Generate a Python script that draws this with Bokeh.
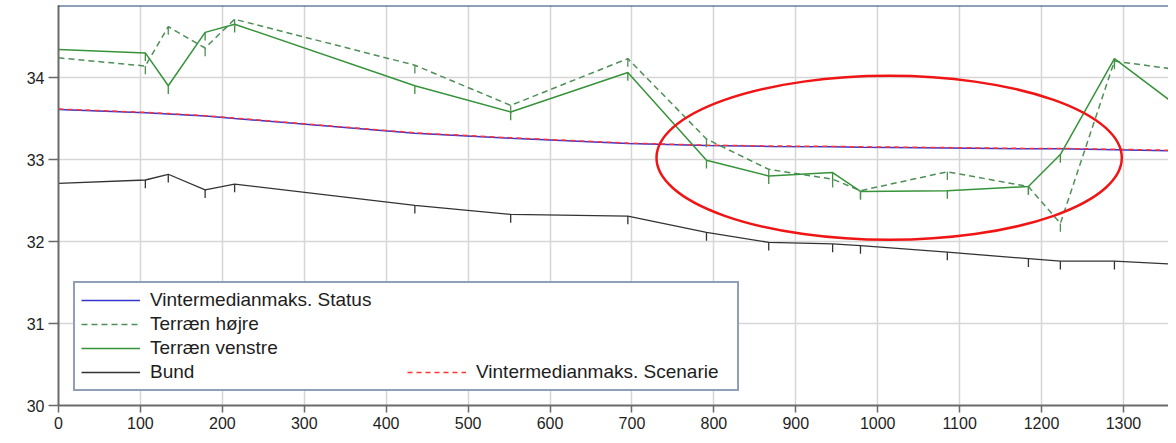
from bokeh.plotting import figure
from bokeh.models import Range1d, FixedTicker, Legend, LegendItem, ColumnDataSource
from bokeh.embed import file_html
from bokeh.resources import INLINE

# ---- data ----
stations = [0, 106, 134, 179, 215, 435, 552, 695, 791, 867, 945, 979, 1085, 1184, 1223, 1289, 1370]
terraen_venstre = [34.34, 34.30, 33.90, 34.55, 34.65, 33.90, 33.58, 34.06, 32.99, 32.80, 32.84, 32.61, 32.62, 32.67, 33.06, 34.23, 33.62]
terraen_hoejre = [34.24, 34.14, 34.62, 34.36, 34.71, 34.15, 33.66, 34.23, 33.25, 32.88, 32.76, 32.62, 32.85, 32.67, 32.22, 34.20, 34.09]
bund = [32.71, 32.75, 32.82, 32.63, 32.70, 32.44, 32.33, 32.31, 32.11, 31.99, 31.97, 31.95, 31.87, 31.79, 31.76, 31.76, 31.72]
status = [33.61, 33.57, 33.555, 33.53, 33.50, 33.32, 33.26, 33.195, 33.17, 33.16, 33.155, 33.15, 33.14, 33.13, 33.13, 33.12, 33.105]
scenarie = [33.615, 33.575, 33.56, 33.535, 33.505, 33.325, 33.265, 33.20, 33.175, 33.165, 33.16, 33.155, 33.145, 33.135, 33.135, 33.125, 33.11]
x_ticks = [0, 100, 200, 300, 400, 500, 600, 700, 800, 900, 1000, 1100, 1200, 1300, 1400]
y_ticks = [30, 31, 32, 33, 34]
highlight = dict(x=1014, y=33.02, w=568, h=2.0)

labels = ["Vintermedianmaks. Status", "Terræn højre", "Terræn venstre", "Bund", "Vintermedianmaks. Scenarie"]

FONT = "Liberation Sans"
GREEN_SOLID = "#36933a"
GREEN_DASH = "#4f8f57"
BLUE = "#3535cf"
RED = "#ff3333"
BLACK = "#333333"
FRAME_BLUE = "#1f3f78"

W, H = 1168, 435
BL, BT, BB = 58, 5, 30
p = figure(width=W, height=H, output_backend="svg", toolbar_location=None,
           x_range=Range1d(0, 1355), y_range=Range1d(30, 30 + 400 / 82),
           min_border_left=BL, min_border_right=0, min_border_top=BT, min_border_bottom=BB,
           background_fill_color="white", border_fill_color="white")
p.outline_line_color = None

# grid
p.xgrid.ticker = FixedTicker(ticks=x_ticks)
p.ygrid.ticker = FixedTicker(ticks=y_ticks)
p.grid.grid_line_color = "#d6d6d6"
p.grid.grid_line_width = 1.5

# axes
p.xaxis.ticker = FixedTicker(ticks=x_ticks)
p.yaxis.ticker = FixedTicker(ticks=y_ticks)
for ax in (p.xaxis, p.yaxis):
    ax.axis_line_color = "#6a6a6a"
    ax.axis_line_width = 2
    ax.major_tick_line_color = "#6a6a6a"
    ax.major_tick_line_width = 1.5
    ax.major_tick_in = 0
    ax.minor_tick_line_color = None
    ax.major_label_text_font = FONT
    ax.major_label_text_font_size = "16px"
    ax.major_label_text_color = "#1e1e1e"
p.xaxis.major_tick_out = 7
p.xaxis.major_label_standoff = 4
p.yaxis.major_tick_out = 10
p.yaxis.major_label_standoff = 4

src = ColumnDataSource(dict(x=stations, v=terraen_venstre, h=terraen_hoejre, b=bund, s=status, sc=scenarie))

r_status = p.line("x", "s", source=src, line_color=BLUE, line_width=1.5)
r_hoejre = p.line("x", "h", source=src, line_color=GREEN_DASH, line_width=1.5, line_dash="6 4")
r_venstre = p.line("x", "v", source=src, line_color=GREEN_SOLID, line_width=1.5)
r_bund = p.line("x", "b", source=src, line_color=BLACK, line_width=1.3)
r_scen = p.line("x", "sc", source=src, line_color=RED, line_width=1.5, line_dash="5 4")

# short section markers below each vertex
tick_len = 0.1
for col, color in (("v", GREEN_SOLID), ("h", GREEN_DASH), ("b", BLACK)):
    ys = src.data[col]
    p.segment(x0=stations[1:-1], y0=ys[1:-1], x1=stations[1:-1],
              y1=[y - tick_len for y in ys[1:-1]], line_color=color, line_width=1.3)

# highlight ellipse
p.ellipse(x=[highlight["x"]], y=[highlight["y"]], width=[highlight["w"]], height=[highlight["h"]],
          fill_alpha=0, line_color="#f01515", line_width=2.5)

# blank placeholders for the legend grid
blank = p.line(x=[], y=[], line_alpha=0)

# outer frame of the original figure: an empty, oversized legend box whose
# top and left edges fall on the canvas edge (right/bottom edges lie outside)
FRAME_PAD = 700
frame_h = 2 * FRAME_PAD + 20
frame_box = Legend(items=[LegendItem(label=" ", renderers=[blank])],
                   location=(-(BL - 1.5), (H - BT - BB) - 4 - frame_h),
                   padding=FRAME_PAD, margin=0, spacing=0,
                   glyph_height=20, label_height=20, glyph_width=10, label_width=10,
                   border_line_color=FRAME_BLUE, border_line_width=2.5,
                   background_fill_alpha=0, label_text_font_size="1px")
p.add_layout(frame_box, "center")

items = [
    LegendItem(label=labels[0], renderers=[r_status]),
    LegendItem(label=labels[1], renderers=[r_hoejre]),
    LegendItem(label=labels[2], renderers=[r_venstre]),
    LegendItem(label=labels[3], renderers=[r_bund]),
    LegendItem(label=" ", renderers=[blank]),
    LegendItem(label=" ", renderers=[blank]),
    LegendItem(label=" ", renderers=[blank]),
    LegendItem(label=labels[4], renderers=[r_scen]),
]
legend = Legend(items=items, location=(15, 14), orientation="vertical", nrows=4,
                border_line_color=FRAME_BLUE, border_line_width=2.5,
                background_fill_color="white", background_fill_alpha=1,
                label_text_font=FONT, label_text_font_size="19px", label_text_color="#1e1e1e",
                glyph_width=59, glyph_height=22, label_height=22, label_width=255,
                label_standoff=10, spacing=2, padding=6, margin=0)
p.add_layout(legend, "center")

open("out.html", "w").write(file_html(p, INLINE))
